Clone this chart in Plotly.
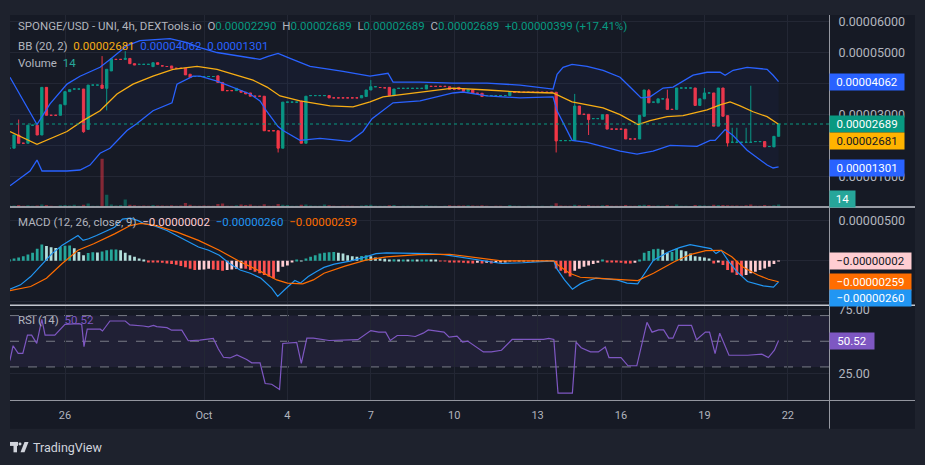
import plotly.graph_objects as go

# ---------------- DATA ----------------
# x = 4h bar index (bar 0 = Sep 24 00:00). Prices in units of 1e-5, MACD in units of 1e-6.
X_TICK_BARS = [12, 42, 60, 78, 96, 114, 132, 150, 168]
X_TICK_TEXT = ['26', 'Oct', '4', '7', '10', '13', '16', '19', '22']

PRICE_TICKS = [1, 2, 3, 4, 5, 6]
# 0.00002000 and 0.00004000 sit fully under the price boxes in the reference
PRICE_TICK_TEXT = ['0.00001000', '', '0.00003000', '', '0.00005000', '0.00006000']
MACD_TICKS = [-5, 0, 5]
MACD_TICK_TEXT = ['', '', '0.00000500']
RSI_TICKS = [25, 75]
RSI_TICK_TEXT = ['25.00', '75.00']

OPEN = [1.907, 1.907, 2.333, 2.066, 2.066, 2.651, 2.651, 2.333, 3.875, 2.971,
        2.971, 2.971, 3.311, 3.737, 3.822, 3.822, 3.822, 2.514, 3.949, 3.949,
        3.949, 3.843, 4.407, 4.780, 4.780, 4.780, 4.812, 4.642, 4.620, 4.620,
        4.620, 4.546, 4.673, 4.570, 4.550, 4.567, 4.492, 4.492, 4.492, 4.300,
        4.226, 4.226, 4.226, 4.226, 4.226, 4.247, 4.034, 3.769, 3.769, 3.769,
        3.769, 3.716, 3.694, 3.588, 3.588, 3.588, 2.471, 2.471, 2.471, 1.907,
        3.397, 3.397, 3.397, 3.428, 2.066, 3.609, 3.609, 3.609, 3.609, 3.609,
        3.535, 3.535, 3.535, 3.535, 3.535, 3.535, 3.535, 3.578, 3.790, 3.896,
        3.870, 3.860, 3.875, 3.609, 3.843, 3.843, 3.843, 3.843, 3.843, 3.843,
        3.822, 3.907, 3.907, 3.907, 3.907, 3.896, 3.811, 3.875, 3.822, 3.747,
        3.790, 3.684, 3.684, 3.609, 3.609, 3.609, 3.609, 3.609, 3.609, 3.716,
        3.716, 3.716, 3.716, 3.716, 3.716, 3.716, 3.716, 3.716, 3.716, 2.152,
        2.152, 2.152, 2.152, 3.269, 3.003, 3.003, 2.864, 2.864, 2.843, 2.992,
        2.524, 2.524, 2.524, 2.524, 2.205, 2.205, 2.205, 2.939, 3.769, 3.397,
        3.375, 3.503, 3.503, 3.162, 3.162, 3.854, 3.854, 3.854, 3.854, 3.290,
        3.503, 3.694, 3.694, 2.620, 3.854, 2.960, 2.098, 2.098, 2.098, 2.098,
        2.098, 2.120, 2.120, 2.120, 1.960, 1.949, 2.290]

HIGH = [1.907, 2.333, 2.833, 2.066, 2.651, 2.651, 2.651, 3.875, 3.875, 2.971,
        2.971, 3.311, 3.737, 3.800, 3.822, 3.822, 3.822, 3.949, 3.949, 3.949,
        4.886, 4.460, 4.801, 4.780, 4.780, 5.046, 4.812, 4.642, 4.620, 4.620,
        4.620, 4.673, 4.673, 4.570, 4.550, 4.567, 4.492, 4.492, 4.492, 4.300,
        4.226, 4.226, 4.226, 4.226, 4.226, 4.247, 4.034, 3.769, 3.769, 3.843,
        3.769, 3.716, 3.694, 3.588, 3.588, 3.588, 2.471, 2.471, 2.471, 3.397,
        3.397, 3.397, 3.397, 3.428, 3.588, 3.609, 3.609, 3.609, 3.609, 3.609,
        3.535, 3.535, 3.535, 3.535, 3.535, 3.535, 3.609, 3.790, 4.109, 3.896,
        3.870, 3.860, 3.875, 3.822, 3.843, 3.843, 3.843, 3.843, 3.843, 3.843,
        3.949, 3.907, 3.907, 3.907, 3.907, 3.896, 3.811, 3.875, 3.822, 3.800,
        3.790, 3.684, 3.684, 3.609, 3.609, 3.609, 3.609, 3.609, 3.737, 3.716,
        3.716, 3.716, 3.716, 3.716, 3.716, 3.716, 3.716, 3.716, 3.716, 2.152,
        2.152, 2.152, 3.663, 3.269, 3.003, 3.003, 2.864, 2.864, 2.992, 2.992,
        2.524, 2.524, 2.524, 2.524, 2.205, 2.205, 2.971, 3.790, 3.822, 3.397,
        3.503, 3.503, 3.800, 3.162, 3.854, 3.854, 3.854, 3.854, 3.854, 3.503,
        3.854, 3.694, 3.694, 3.854, 3.854, 2.960, 2.567, 2.567, 2.098, 2.567,
        3.928, 2.120, 2.120, 2.120, 1.960, 2.290, 2.689]

LOW = [1.907, 1.907, 2.066, 2.066, 2.066, 2.651, 2.333, 2.333, 2.971, 2.971,
       2.971, 2.971, 3.311, 3.737, 3.822, 3.822, 2.407, 2.514, 3.949, 3.949,
       3.843, 3.130, 4.407, 4.780, 4.780, 4.780, 4.642, 4.599, 4.620, 4.620,
       4.620, 4.546, 4.620, 4.570, 4.550, 4.492, 4.492, 4.492, 4.279, 4.194,
       4.226, 4.226, 4.226, 4.226, 4.226, 4.034, 3.769, 3.769, 3.769, 3.769,
       3.716, 3.663, 3.588, 3.588, 3.588, 2.471, 2.471, 2.471, 1.768, 1.907,
       3.397, 3.397, 3.397, 2.066, 2.066, 3.609, 3.609, 3.609, 3.609, 3.535,
       3.535, 3.535, 3.535, 3.535, 3.535, 3.535, 3.535, 3.578, 3.790, 3.896,
       3.870, 3.860, 3.609, 3.609, 3.843, 3.843, 3.843, 3.843, 3.843, 3.843,
       3.822, 3.907, 3.907, 3.907, 3.907, 3.811, 3.811, 3.811, 3.747, 3.747,
       3.684, 3.684, 3.578, 3.609, 3.609, 3.609, 3.609, 3.609, 3.609, 3.716,
       3.716, 3.716, 3.716, 3.716, 3.716, 3.716, 3.716, 3.716, 1.768, 2.152,
       2.152, 2.152, 2.152, 3.003, 3.003, 2.333, 2.864, 2.864, 2.843, 2.524,
       2.524, 2.524, 2.524, 2.205, 2.205, 2.205, 2.205, 2.939, 3.375, 3.397,
       3.375, 3.503, 3.162, 3.162, 3.162, 3.854, 3.854, 3.854, 3.290, 3.290,
       3.503, 3.694, 2.620, 2.620, 2.939, 1.960, 2.098, 2.098, 2.098, 2.098,
       2.098, 2.120, 2.120, 1.949, 1.960, 1.949, 2.290]

CLOSE = [1.907, 2.333, 2.066, 2.066, 2.651, 2.651, 2.333, 3.875, 2.971, 2.971,
         2.971, 3.311, 3.737, 3.800, 3.822, 3.822, 2.439, 3.949, 3.949, 3.949,
         3.843, 4.460, 4.801, 4.780, 4.780, 4.812, 4.642, 4.599, 4.620, 4.620,
         4.620, 4.673, 4.620, 4.570, 4.550, 4.492, 4.492, 4.492, 4.279, 4.194,
         4.226, 4.226, 4.226, 4.226, 4.226, 4.034, 3.769, 3.769, 3.769, 3.843,
         3.716, 3.663, 3.588, 3.588, 3.588, 2.471, 2.471, 2.471, 1.907, 3.397,
         3.397, 3.397, 3.397, 2.066, 3.588, 3.609, 3.609, 3.609, 3.609, 3.535,
         3.535, 3.535, 3.535, 3.535, 3.535, 3.535, 3.609, 3.790, 3.896, 3.896,
         3.870, 3.860, 3.609, 3.822, 3.843, 3.843, 3.843, 3.843, 3.843, 3.843,
         3.949, 3.907, 3.907, 3.907, 3.907, 3.811, 3.811, 3.811, 3.747, 3.800,
         3.684, 3.684, 3.578, 3.609, 3.609, 3.609, 3.609, 3.609, 3.737, 3.716,
         3.716, 3.716, 3.716, 3.716, 3.716, 3.716, 3.716, 3.716, 2.141, 2.152,
         2.152, 2.152, 3.269, 3.003, 3.003, 2.833, 2.864, 2.864, 2.992, 2.524,
         2.524, 2.524, 2.524, 2.205, 2.205, 2.205, 2.971, 3.790, 3.375, 3.397,
         3.503, 3.503, 3.162, 3.162, 3.854, 3.854, 3.854, 3.854, 3.290, 3.503,
         3.694, 3.694, 2.620, 3.854, 2.939, 2.077, 2.098, 2.098, 2.098, 2.098,
         2.098, 2.120, 2.120, 1.949, 1.960, 2.290, 2.689]

VOLUME = [7, 8, 10, 6, 9, 5, 7, 14, 10, 5,
          4, 9, 10, 8, 12, 5, 12, 21, 6, 5,
          341, 84, 14, 8, 10, 50, 12, 9, 6, 7,
          6, 10, 8, 7, 6, 9, 5, 8, 25, 12,
          5, 6, 7, 5, 6, 18, 21, 6, 5, 9,
          14, 10, 14, 6, 5, 16, 6, 5, 18, 12,
          10, 6, 5, 12, 14, 7, 6, 5, 14, 9,
          5, 4, 5, 6, 5, 4, 8, 10, 12, 6,
          5, 6, 9, 10, 4, 5, 6, 5, 4, 7,
          9, 5, 6, 4, 5, 9, 5, 7, 8, 9,
          8, 5, 9, 5, 4, 6, 5, 4, 10, 6,
          5, 4, 5, 6, 4, 5, 4, 7, 23, 8,
          6, 5, 12, 9, 5, 10, 6, 5, 9, 10,
          5, 6, 5, 10, 6, 5, 10, 12, 11, 5,
          8, 5, 9, 5, 14, 6, 5, 4, 10, 9,
          8, 6, 12, 11, 10, 9, 8, 8, 6, 9,
          14, 6, 5, 10, 5, 9, 14]

# Bollinger Bands (20, 2) read as polylines: (bar index, price)
BB_UP_X = [0.13, 5.96, 8.76, 12.43, 15.24, 19.56, 21.71, 25.38, 28.19, 34.66, 38.33, 41.14, 44.81,
           49.77, 54.09, 55.82, 57.98, 60.57, 64.89, 69.2, 72.0, 77.83, 81.72, 82.8, 88.63, 95.75,
           103.09, 110.21, 117.33, 118.2, 119.49, 121.43, 124.67, 128.13, 131.8, 133.95, 136.33,
           138.27, 141.08, 143.23, 147.55, 150.57, 153.38, 154.46, 156.19, 159.21, 163.53, 164.82, 166.0]
BB_UP = [4.204, 2.671, 3.342, 3.981, 4.236, 4.524, 4.78, 5.227, 5.387, 5.45, 5.323, 5.163, 5.003,
         4.875, 4.78, 4.875, 4.971, 4.812, 4.556, 4.46, 4.396, 4.236, 4.332, 4.045, 4.045, 4.013,
         4.013, 3.949, 3.821, 4.3, 4.524, 4.62, 4.556, 4.428, 4.204, 3.885, 3.534,
         3.566, 3.853, 3.885, 4.268, 4.364, 4.364, 4.268, 4.428, 4.524, 4.46, 4.268, 4.062]
BB_LO_X = [0.13, 1.64, 4.45, 5.96, 7.04, 12.43, 15.24, 17.40, 19.56, 21.71, 25.38, 27.54, 30.99,
           35.09, 36.17, 39.63, 41.14, 44.81, 51.93, 54.09, 55.6, 57.98, 59.06, 62.72, 67.04, 73.51,
           76.32, 78.27, 82.8, 88.63, 95.75, 97.91, 103.09, 110.21, 117.33, 118.2, 120.36, 121.43,
           124.67, 131.8, 135.46, 138.92, 142.59, 146.26, 148.42, 151.23, 152.3, 154.46, 156.19,
           159.21, 163.53, 164.82, 166.0]
BB_LO = [0.690, 0.850, 1.169, 1.521, 1.169, 1.169, 1.201, 1.361, 1.744, 1.904, 2.479, 2.703, 3.118,
         3.374, 3.981, 4.236, 4.236, 4.077, 3.661, 3.438, 3.086, 2.607, 2.479, 2.160, 2.224, 2.128,
         2.447, 2.863, 3.374, 3.438, 3.693, 3.725, 3.598, 3.534, 3.566, 3.118, 2.479, 2.160,
         2.096, 1.808, 1.712, 1.808, 2.000, 1.968, 1.968, 2.160, 2.160, 2.511, 2.319,
         1.840, 1.361, 1.265, 1.301]
BB_MID_X = [0.13, 5.96, 12.43, 15.89, 19.56, 23.22, 26.68, 30.99, 35.31, 38.33, 40.49, 44.81, 48.26,
            52.58, 55.6, 58.41, 62.72, 69.2, 74.16, 77.83, 80.64, 88.63, 95.75, 103.09, 110.21,
            117.33, 121.43, 128.13, 131.8, 135.68, 138.27, 141.94, 145.39, 150.57, 153.38, 155.54,
            157.7, 160.5, 163.53, 166.0]
BB_MID = [2.447, 2.032, 2.447, 2.799, 3.118, 3.661, 3.981, 4.236, 4.460, 4.524, 4.556, 4.460, 4.300,
          4.109, 3.885, 3.597, 3.438, 3.278, 3.246, 3.406, 3.566, 3.725, 3.853, 3.789, 3.725,
          3.693, 3.406, 3.214, 2.990, 2.671, 2.799, 2.927, 2.958, 3.150, 3.310, 3.406,
          3.278, 3.086, 2.927, 2.681]

# MACD (12, 26, 9), units of 1e-6
MACD_HIST = [0.20, 0.28, 0.40, 0.57, 0.77, 0.98, 1.50, 2.00, 1.83, 1.68,
             1.59, 1.70, 1.85, 1.90, 1.55, 1.10, 0.70, 0.95, 1.05, 1.02,
             1.15, 1.30, 1.40, 1.40, 1.30, 1.00, 0.70, 0.49, 0.28, 0.10,
             -0.10, -0.13, -0.20, -0.25, -0.33, -0.40, -0.50, -0.65, -0.81, -0.98,
             -1.14, -1.12, -1.06, -0.98, -1.06, -1.14, -1.22, -1.14, -1.06, -0.98,
             -0.94, -0.98, -1.14, -1.35, -1.54, -1.75, -1.95, -2.15, -1.35, -0.73,
             -0.57, -0.12, 0.08, 0.03, 0.28, 0.49, 0.69, 0.89, 1.00, 1.05,
             1.10, 1.00, 0.89, 0.69, 0.57, 0.49, 0.60, 0.69, 0.57, 0.40,
             0.28, 0.24, 0.16, 0.20, 0.16, 0.16, 0.12, 0.12, 0.08, 0.08,
             0.16, 0.08, 0.04, -0.02, -0.05, -0.12, -0.16, -0.20, -0.25, -0.29,
             -0.33, -0.25, -0.33, -0.25, -0.33, -0.25, -0.16, -0.12, -0.08, -0.08,
             -0.05, -0.04, -0.04, -0.03, -0.02, -0.02, -0.01, -0.01, -0.94, -1.22,
             -1.54, -1.95, -1.22, -0.98, -0.73, -0.57, -0.40, -0.25, 0.16, -0.12,
             -0.12, -0.16, -0.25, -0.33, -0.33, -0.25, 0.16, 0.98, 1.22, 1.42,
             1.50, 1.38, 0.98, 1.10, 1.50, 1.30, 1.18, 0.89, 0.57, 0.49,
             0.40, 0.28, -0.33, -0.12, -0.53, -1.14, -1.46, -1.75, -1.87, -1.75,
             -1.54, -1.35, -1.14, -0.94, -0.73, -0.40, -0.02]
MACD_X = [0.1, 2.4, 4.6, 6.3, 7.5, 9.2, 11.4, 13.1, 14.8, 15.9,
          17.1, 18.8, 20.4, 22.7, 24.4, 26.1, 27.8, 28.9, 31.2, 34.0,
          37.4, 40.8, 43.0, 45.3, 47.5, 49.8, 52.0, 54.3, 56.6, 57.9,
          59.4, 61.6, 62.8, 64.5, 66.2, 67.9, 70.1, 73.5, 76.9, 79.1,
          81.4, 85.9, 90.4, 93.8, 97.2, 101.7, 106.2, 110.8, 117.5, 118.1,
          119.8, 121.5, 123.2, 124.3, 126.6, 131.1, 133.3, 135.6, 137.3, 139.0,
          142.3, 144.6, 146.9, 149.1, 151.4, 152.5, 153.6, 155.3, 157.0, 159.3,
          162.7, 164.9, 166.0]
MACD_LINE = [-3.50, -2.97, -1.95, -0.94, -0.12, 0.89, 1.91, 2.52, 3.13, 2.52,
             2.72, 3.13, 3.54, 4.15, 5.16, 5.28, 4.96, 4.63, 4.35, 3.74,
             2.72, 1.71, 1.30, 0.69, -0.33, -1.14, -1.54, -2.15, -3.37, -4.39,
             -3.58, -2.44, -2.76, -1.95, -1.34, -0.81, -0.41, -0.04, 0.49, 0.89,
             0.98, 0.98, 0.89, 0.77, 0.49, 0.08, -0.33, -0.24, 0.00, -0.94,
             -2.36, -3.50, -2.85, -2.56, -2.15, -2.36, -2.76, -2.85, -1.34, 0.08,
             1.10, 1.63, 1.99, 1.71, 1.50, 0.89, 1.30, -0.12, -1.34, -2.56,
             -3.09, -3.25, -2.60]
SIGNAL_X = [0.1, 4.6, 8.0, 11.4, 14.8, 18.2, 22.7, 26.1, 28.4, 31.7,
            36.2, 40.8, 45.3, 49.8, 54.3, 57.7, 60.0, 63.3, 65.6, 67.9,
            72.4, 76.9, 81.4, 88.2, 95.0, 101.7, 106.2, 117.5, 118.7, 120.9,
            123.2, 126.6, 131.1, 135.6, 139.0, 143.5, 146.9, 150.3, 153.6, 155.9,
            158.2, 161.5, 163.8, 166.0]
SIGNAL_LINE = [-3.70, -3.17, -2.15, -0.33, 1.30, 2.11, 3.33, 4.35, 4.63, 4.35,
               3.54, 2.52, 1.30, -0.12, -1.34, -2.36, -2.76, -2.85, -2.36, -1.54,
               -0.65, 0.08, 0.49, 0.77, 0.81, 0.28, 0.00, 0.00, -0.65, -1.54,
               -2.03, -2.15, -2.28, -2.44, -1.54, -0.12, 0.77, 1.26, 1.30, 0.49,
               -0.73, -1.75, -2.28, -2.59]

# RSI (14)
RSI_X = [0.1, 0.8, 1.9, 2.9, 3.9, 4.8, 5.9, 7.0, 7.7, 9.8,
         12.0, 14.9, 15.6, 16.1, 16.8, 19.6, 20.1, 21.7, 25.0, 26.0,
         28.9, 30.0, 31.1, 31.8, 34.0, 35.0, 37.2, 38.6, 41.1, 44.0,
         45.1, 46.2, 47.6, 49.1, 51.2, 52.3, 54.1, 55.2, 56.6, 58.3,
         59.0, 62.0, 63.0, 64.2, 65.6, 69.0, 75.2, 78.0, 79.7, 81.2,
         82.2, 83.7, 85.9, 87.6, 89.3, 90.4, 93.8, 94.9, 96.6, 97.8,
         98.9, 100.6, 102.3, 104.0, 106.2, 108.5, 115.3, 116.4, 117.5, 118.4,
         121.5, 122.3, 123.4, 125.4, 127.1, 128.6, 129.4, 132.0, 133.5, 135.4,
         137.0, 137.6, 138.7, 140.1, 141.2, 142.3, 143.2, 144.4, 147.2, 148.3,
         150.2, 151.1, 152.3, 153.3, 155.3, 159.3, 162.4, 163.8, 165.1, 166.0]
RSI_V = [35.0, 46.5, 40.6, 40.6, 54.8, 54.8, 48.3, 67.0, 54.8, 54.8,
         63.2, 63.7, 63.2, 45.8, 59.4, 59.4, 58.0, 65.8, 65.8, 62.7,
         61.9, 61.2, 62.4, 61.4, 60.6, 58.6, 58.6, 50.4, 50.9, 52.2,
         44.0, 37.5, 37.0, 39.4, 35.8, 33.2, 33.2, 17.1, 16.5, 12.4,
         48.3, 49.1, 32.7, 52.4, 52.4, 50.6, 51.2, 58.3, 57.1, 57.1,
         50.6, 54.5, 54.5, 53.7, 56.3, 58.8, 57.1, 53.2, 54.0, 49.4,
         50.1, 46.0, 41.7, 41.7, 43.0, 51.4, 51.4, 52.2, 51.4, 9.6,
         9.6, 49.4, 45.0, 41.7, 41.7, 45.5, 37.3, 37.3, 30.9, 30.9,
         54.5, 64.7, 57.1, 58.9, 58.9, 52.4, 52.4, 62.4, 62.4, 51.2,
         57.1, 57.1, 40.4, 56.3, 39.1, 39.1, 39.9, 37.3, 43.0, 50.52]

LAST_CLOSE = 2.689
RSI_LEVELS = [70, 50, 30]

# ---------------- STYLE ----------------
FRAME = '#1e222d'
CHART_BG = '#161a25'
GRID = '#232734'
GRAY = '#b2b5be'
GREEN = '#089981'
RED = '#f23645'
BB_BLUE = '#2962ff'
BB_GOLD = '#f7ad14'
MACD_BLUE = '#2196f3'
SIG_ORANGE = '#ff6d00'
RSI_PURPLE = '#7e57c2'
SEP = '#c3c6ce'

PL, PR, PT, PB = 10, 830, 10, 400


def px(x):
    return (x - PL) / (PR - PL)


def py(y):
    return (PB - y) / (PB - PT)


n = min(len(OPEN), len(HIGH), len(LOW), len(CLOSE), len(VOLUME), len(MACD_HIST))
X = list(range(n))

vol_colors = []
prev_dir = 1
for i in range(n):
    if CLOSE[i] > OPEN[i]:
        d = 1
    elif CLOSE[i] < OPEN[i]:
        d = -1
    else:
        d = prev_dir
    prev_dir = d
    vol_colors.append('rgba(8,153,129,0.5)' if d > 0 else 'rgba(242,54,69,0.5)')

hist_colors = []
prev = None
for h in MACD_HIST[:n]:
    if h >= 0:
        c = '#26a69a' if (prev is None or h >= prev) else '#b2dfdb'
    else:
        c = '#ffcdd2' if (prev is not None and h > prev) else '#ff5252'
    hist_colors.append(c)
    prev = h

fig = go.Figure()

fig.add_trace(go.Bar(x=X, y=VOLUME[:n], marker=dict(color=vol_colors, line=dict(width=0)),
                     width=0.7, xaxis='x', yaxis='y4', hoverinfo='skip'))

fig.add_trace(go.Scatter(x=BB_UP_X, y=BB_UP, mode='lines', line=dict(color=BB_BLUE, width=1.3),
                         xaxis='x', yaxis='y', hoverinfo='skip'))
fig.add_trace(go.Scatter(x=BB_LO_X, y=BB_LO, mode='lines', line=dict(color=BB_BLUE, width=1.3),
                         fill='tonexty', fillcolor='rgba(41,98,255,0.045)',
                         xaxis='x', yaxis='y', hoverinfo='skip'))
fig.add_trace(go.Scatter(x=BB_MID_X, y=BB_MID, mode='lines', line=dict(color=BB_GOLD, width=1.3),
                         xaxis='x', yaxis='y', hoverinfo='skip'))

fig.add_trace(go.Candlestick(
    x=X, open=OPEN[:n], high=HIGH[:n], low=LOW[:n], close=CLOSE[:n],
    increasing=dict(line=dict(color=GREEN, width=1), fillcolor=GREEN),
    decreasing=dict(line=dict(color=RED, width=1), fillcolor=RED),
    whiskerwidth=0, xaxis='x', yaxis='y', hoverinfo='skip'))

fig.add_trace(go.Bar(x=X, y=MACD_HIST[:n], marker=dict(color=hist_colors, line=dict(width=0)),
                     width=0.6, xaxis='x', yaxis='y2', hoverinfo='skip'))
fig.add_trace(go.Scatter(x=MACD_X, y=MACD_LINE, mode='lines', line=dict(color=MACD_BLUE, width=1.2),
                         xaxis='x', yaxis='y2', hoverinfo='skip'))
fig.add_trace(go.Scatter(x=SIGNAL_X, y=SIGNAL_LINE, mode='lines', line=dict(color=SIG_ORANGE, width=1.2),
                         xaxis='x', yaxis='y2', hoverinfo='skip'))

fig.add_trace(go.Scatter(x=RSI_X, y=RSI_V, mode='lines', line=dict(color=RSI_PURPLE, width=1.2),
                         xaxis='x', yaxis='y3', hoverinfo='skip'))

shapes = []
shapes.append(dict(type='rect', xref='paper', yref='paper', x0=px(10), x1=px(915), y0=py(429), y1=py(10),
                   fillcolor=CHART_BG, line=dict(width=0), layer='below'))
shapes.append(dict(type='rect', xref='paper', yref='y3', x0=0, x1=1, y0=30, y1=70,
                   fillcolor='rgba(126,87,194,0.10)', line=dict(width=0), layer='below'))
for lv in RSI_LEVELS:
    shapes.append(dict(type='line', xref='paper', yref='y3', x0=0, x1=1, y0=lv, y1=lv,
                       line=dict(color='#787b86', width=1, dash='dash'), layer='below'))
shapes.append(dict(type='line', xref='paper', yref='y', x0=0, x1=1, y0=LAST_CLOSE, y1=LAST_CLOSE,
                   line=dict(color=GREEN, width=1, dash='dot')))
for yy in (204.5, 304.0):
    shapes.append(dict(type='line', xref='paper', yref='paper', x0=px(10), x1=px(915), y0=py(yy), y1=py(yy),
                       line=dict(color=SEP, width=1.5)))
shapes.append(dict(type='line', xref='paper', yref='paper', x0=px(10), x1=px(915), y0=py(400.5), y1=py(400.5),
                   line=dict(color='#9598a1', width=1)))
shapes.append(dict(type='line', xref='paper', yref='paper', x0=px(829.5), x1=px(829.5), y0=py(10), y1=py(429),
                   line=dict(color='#9598a1', width=1)))
LOGO = '#d1d4dc'
shapes.append(dict(type='rect', xref='paper', yref='paper', x0=px(10), x1=px(18), y0=py(446.5), y1=py(442.5),
                   fillcolor=LOGO, line=dict(width=0)))
shapes.append(dict(type='rect', xref='paper', yref='paper', x0=px(13.5), x1=px(17), y0=py(453), y1=py(442.5),
                   fillcolor=LOGO, line=dict(width=0)))
shapes.append(dict(type='circle', xref='paper', yref='paper', x0=px(18.5), x1=px(21.5), y0=py(446), y1=py(443),
                   fillcolor=LOGO, line=dict(width=0)))
shapes.append(dict(type='path', xref='paper', yref='paper',
                   path=f'M {px(20.5)},{py(453)} L {px(24.5)},{py(453)} L {px(28.5)},{py(442.5)} L {px(24.5)},{py(442.5)} Z',
                   fillcolor=LOGO, line=dict(width=0)))

SP = '\u00a0\u00a0'


def span(t, c):
    return f"<span style='color:{c}'>{t}</span>"


annotations = []
row1 = (span('SPONGE/USD - UNI, 4h, DEXTools.io', GRAY) + SP +
        span('O', GRAY) + span('0.00002290', GREEN) + SP +
        span('H', GRAY) + span('0.00002689', GREEN) + SP +
        span('L', GRAY) + span('0.00002689', GREEN) + SP +
        span('C', GRAY) + span('0.00002689', GREEN) + SP +
        span('+0.00000399 (+17.41%)', GREEN))
row2 = (span('BB (20, 2)', GRAY) + SP + span('0.00002681', BB_GOLD) + SP +
        span('0.00004062', BB_BLUE) + SP + span('0.00001301', BB_BLUE))
row3 = span('Volume', GRAY) + SP + span('14', '#26a69a')
row_macd = (span('MACD (12, 26, close, 9)', GRAY) + SP + span('\u22120.00000002', '#ffcdd2') + SP +
            span('\u22120.00000260', MACD_BLUE) + SP + span('\u22120.00000259', SIG_ORANGE))
row_rsi = span('RSI (14)', GRAY) + SP + span('50.52', RSI_PURPLE)

for txt, yy in ((row1, 21.5), (row2, 41), (row3, 58.5), (row_macd, 219.5), (row_rsi, 318.5)):
    annotations.append(dict(text=txt, xref='paper', yref='paper', x=px(16), y=py(yy),
                            xanchor='left', yanchor='middle', showarrow=False,
                            font=dict(family='Roboto, sans-serif', size=11.5, color=GRAY)))


def box(text, yref, y, bg, fg, w):
    return dict(text=text, xref='paper', yref=yref, x=px(829), y=y, xanchor='left', yanchor='middle',
                showarrow=False, bgcolor=bg, borderpad=2, width=w, height=12, align='center',
                font=dict(family='Roboto, sans-serif', size=11.5, color=fg))


annotations += [
    box('0.00004062', 'y', 4.062, BB_BLUE, '#ffffff', 70),
    box('0.00002689', 'y', 2.689, GREEN, '#ffffff', 70),
    box('0.00002681', 'y', 2.137, '#ffb300', '#131722', 70),
    box('0.00001301', 'y', 1.27, BB_BLUE, '#ffffff', 70),
    box('14', 'paper', py(196.7), '#26a69a', '#ffffff', 21),
    box('\u22120.00000002', 'y2', -0.02, '#ffcdd2', '#131722', 77),
    box('\u22120.00000259', 'y2', -2.62, SIG_ORANGE, '#ffffff', 77),
    box('\u22120.00000260', 'y2', -4.57, MACD_BLUE, '#ffffff', 77),
    box('50.52', 'y3', 50.52, RSI_PURPLE, '#ffffff', 40),
]
annotations.append(dict(text='TradingView', xref='paper', yref='paper', x=px(30.5), y=py(448),
                        xanchor='left', yanchor='middle', showarrow=False,
                        font=dict(family='Roboto, sans-serif', size=12.5, color=LOGO)))

axis_common = dict(showgrid=True, gridcolor=GRID, gridwidth=1, zeroline=False, showline=False,
                   ticks='outside', ticklen=5, tickcolor='rgba(0,0,0,0)', fixedrange=True)

fig.update_layout(
    width=925, height=465, autosize=False,
    margin=dict(l=PL, r=925 - PR, t=PT, b=465 - PB, pad=0),
    paper_bgcolor=FRAME, plot_bgcolor=CHART_BG,
    showlegend=False, barmode='overlay', hovermode=False,
    font=dict(family='Roboto, sans-serif', color=GRAY),
    xaxis=dict(domain=[0, 1], range=[0.13, 177.1], anchor='y3',
               tickmode='array', tickvals=X_TICK_BARS, ticktext=X_TICK_TEXT,
               tickfont=dict(size=11, color=GRAY), rangeslider=dict(visible=False),
               **{**axis_common, 'ticklen': 5}),
    yaxis=dict(domain=[py(204), 1], range=[0.019, 6.217], side='right', anchor='x',
               tickmode='array', tickvals=PRICE_TICKS, ticktext=PRICE_TICK_TEXT,
               tickfont=dict(size=12.5, color=GRAY), **axis_common),
    yaxis4=dict(overlaying='y', range=[0, 1370], visible=False, anchor='x', fixedrange=True),
    yaxis2=dict(domain=[py(303), py(205)], range=[-5.366, 6.585], side='right', anchor='x',
                tickmode='array', tickvals=MACD_TICKS, ticktext=MACD_TICK_TEXT,
                tickfont=dict(size=12.5, color=GRAY), **axis_common),
    yaxis3=dict(domain=[0, py(305)], range=[4.23, 77.3], side='right', anchor='x',
                tickmode='array', tickvals=RSI_TICKS, ticktext=RSI_TICK_TEXT,
                tickfont=dict(size=12.5, color=GRAY), **axis_common),
    shapes=shapes, annotations=annotations,
)

fig.write_html("out.html", config={'displayModeBar': False},
               post_script="document.body.style.margin='0';")
